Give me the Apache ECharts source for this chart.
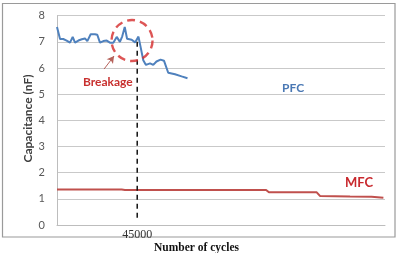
<!DOCTYPE html>
<html><head><meta charset="utf-8">
<script src="https://cdn.jsdelivr.net/npm/echarts@6/dist/echarts.min.js"></script>
<style>html,body{margin:0;padding:0;background:#fff}#c{width:400px;height:253px}</style>
</head><body><div id="c"></div>
<script>
// PFC: [cycles, capacitance nF]
const pfcCycles = [0,1700,3500,5400,7300,8800,10100,12000,13900,15700,17000,18900,21300,22600,24100,26000,27900,29700,31600,33500,35300,36600,38000,39300,41900,43800,44700,45700,47000,48400,49900,52200,54000,55800,58100,60000,62400,66200,69900,73200];
const pfcValues = [7.57,7.11,7.11,7.05,6.97,7.19,6.97,7.05,7.10,7.13,7.03,7.29,7.29,7.27,6.97,7.03,7.05,6.97,6.97,7.19,7.00,7.21,7.57,7.12,7.08,6.98,7.03,7.20,6.77,6.30,6.12,6.18,6.12,6.25,6.32,6.28,5.82,5.76,5.68,5.61];
// MFC
const mfcCycles = [0,36300,38100,117300,118900,145700,147500,164400,176500,183100];
const mfcValues = [1.36,1.36,1.34,1.34,1.25,1.25,1.11,1.09,1.08,1.04];
const xTickValues = [45000];
const breakCycle = 45000;
const xMax = 184000;

const chart = echarts.init(document.getElementById('c'), null, {renderer:'canvas'});
const zip = (a,b)=>a.map((v,i)=>[v,b[i]]);
chart.setOption({
  animation:false,
  grid:{left:57,right:15,top:15.7,bottom:28,containLabel:false},
  xAxis:{type:'value',min:0,max:xMax,
    axisLine:{show:true,lineStyle:{color:'#bdbdbd',width:1}},
    axisTick:{show:false},splitLine:{show:false},
    axisLabel:{customValues:xTickValues,formatter:v=>String(v),fontFamily:'Liberation Serif',fontSize:12,color:'#333',margin:4}},
  yAxis:{type:'value',min:0,max:8,interval:1,
    axisLine:{show:true,lineStyle:{color:'#bdbdbd',width:1}},
    axisTick:{show:false},
    splitLine:{lineStyle:{color:'#c9c9c9',width:1}},
    axisLabel:{fontFamily:'Lato',fontSize:11,color:'#595959',margin:12}},
  series:[
    {type:'line',data:zip(pfcCycles,pfcValues),symbol:'none',lineStyle:{color:'#4f81bd',width:2},z:3},
    {type:'line',data:zip(mfcCycles,mfcValues),symbol:'none',lineStyle:{color:'#c0504d',width:2},z:3},
    {type:'line',data:[[breakCycle,7.0],[breakCycle,0.25]],symbol:'none',lineStyle:{color:'#111',width:1.5,type:[5,4]},z:4},
    {type:'scatter',data:[[42100,7.05]],symbol:'circle',symbolSize:41,
      itemStyle:{color:'rgba(0,0,0,0)',borderColor:'#d42b2b',borderWidth:2.4,borderType:[8,5]},z:5,silent:true},
    {type:'line',data:[],symbol:'none',
      markLine:{silent:true,symbol:['none','arrow'],symbolSize:[6,7],label:{show:false},
        lineStyle:{color:'#b5615a',width:1,type:'solid'},
        data:[[{coord:[26400,5.96]},{coord:[32000,6.46]}]]}}
  ],
  graphic:[
    {type:'rect',shape:{x:2.5,y:3.5,width:392.5,height:233.5},style:{fill:'none',stroke:'#9a9a9a',lineWidth:1.2},z:-1},
    {type:'text',x:28,y:118.5,rotation:Math.PI/2,style:{text:'Capacitance (nF)',font:'bold 12px Lato',fill:'#404040',align:'center',verticalAlign:'middle'}},
    {type:'text',x:196.5,y:248.5,style:{text:'Number of cycles',font:'bold 11.5px "Liberation Serif"',fill:'#111',align:'center',verticalAlign:'middle'}},
    {type:'text',x:83,y:82,style:{text:'Breakage',font:'bold 12px Lato',fill:'#c8302f',align:'left',verticalAlign:'middle'}},
    {type:'text',x:282,y:88.5,style:{text:'PFC',font:'bold 12px Lato',fill:'#4a78b4',align:'left',verticalAlign:'middle'}},
    {type:'text',x:345,y:183,style:{text:'MFC',font:'bold 13px Lato',fill:'#c8282d',align:'left',verticalAlign:'middle'}}
  ]
});
</script></body></html>
